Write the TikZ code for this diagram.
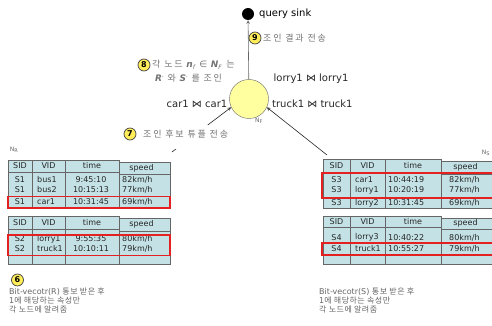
\documentclass[tikz,border=0pt]{standalone}
\usepackage{fontspec}
\setmainfont{DejaVu Sans}
\newfontfamily\krw[LetterSpace=20]{Noto Sans CJK KR}
\newfontfamily\krn[LetterSpace=6]{Noto Sans CJK KR}
\usepackage{tikz}

\definecolor{tblblue}{RGB}{196,226,230}
\definecolor{joinyellow}{RGB}{255,255,160}
\definecolor{numyellow}{RGB}{255,238,90}
\definecolor{hlred}{RGB}{228,32,32}

\tikzset{
  tline/.style={draw=black!60, line width=0.5pt},
  hlbox/.style={draw=hlred, line width=1.3pt},
  celltxt/.style={inner sep=0pt, text=black!85, font=\fontsize{8}{9}\selectfont},
  bowlbl/.style={inner sep=0pt, text=black!85, font=\fontsize{10}{11}\selectfont},
  num/.style={circle, draw=black!75, line width=0.7pt, fill=numyellow, inner sep=0pt,
    minimum size=12pt, font=\bfseries\fontsize{8}{8}\selectfont},
  steplbl/.style={inner sep=0pt, text=black!55, font=\krw\fontsize{9}{10}\selectfont},
  note/.style={inner sep=0pt, text=black!60, align=left, font=\fontsize{8}{8.7}\selectfont},
  minilbl/.style={inner sep=0pt, text=black!60, font=\fontsize{6}{6}\selectfont},
}

\begin{document}
\begin{tikzpicture}[x=1pt,y=-1pt,>=stealth]
\useasboundingbox (0,0) rectangle (492,326);

% query sink and join node N_F
\node[circle, fill=black, inner sep=0pt, minimum size=12pt] (sink) at (248,14) {};
\node[anchor=west, inner sep=0pt, font=\fontsize{10}{11}\selectfont] (sinklbl) at (259,14) {query sink};
\node[circle, draw=black!60, fill=joinyellow, inner sep=0pt, minimum size=39pt] (join) at (249,99) {};
\node[minilbl] (nf) at (259,121) {N\textsubscript{F}};
\draw[->, black!60, line width=0.6pt] (join) -- (sink);

% step 9
\node[num] (n9) at (255,38) {9};
\node[steplbl, anchor=west] (lab9) at (263,38) {조인 결과 전송};

% step 8
\node[num] (n8) at (144,65) {8};
\node[steplbl, anchor=west] (lab8a) at (152,65)
  {각 노드 {\rmfamily\bfseries\itshape n}\textsubscript{\rmfamily\itshape f} {\rmfamily ∈} {\rmfamily\bfseries\itshape N}\textsubscript{\rmfamily\itshape F} 는};
\node[steplbl, anchor=west] (lab8b) at (155,78)
  {{\rmfamily\bfseries\itshape R}{\rmfamily\fontsize{7}{7}\selectfont ′} 와 {\rmfamily\bfseries\itshape S}{\rmfamily\fontsize{7}{7}\selectfont ′} 를 조인};

% joined tuples
\node[bowlbl] (jlorry) at (311,79) {lorry1 ⋈ lorry1};
\node[bowlbl] (jcar) at (197,104) {car1 ⋈ car1};
\node[bowlbl, anchor=west] (jtruck) at (272,104) {truck1 ⋈ truck1};

% step 7: candidate tuples sent to N_F
\coordinate (fromR) at (172,152);
\coordinate (fromS) at (327,155);
\draw[->, black!85, line width=0.6pt] (fromR) -- (join.205);
\draw[->, black!85, line width=0.6pt] (fromS) -- (join.-25);
\node[num] (n7) at (130,134) {7};
\node[steplbl, anchor=base west, fill=white, text height=12pt, text depth=12pt, inner xsep=2pt]
  (lab7) at (141,137) {조인 후보 튜플 전송};

\node[minilbl] (nr) at (14,150) {N\textsubscript{R}};
\node[minilbl] (ns) at (486,153) {N\textsubscript{S}};

% table frames
\foreach \xa/\xb/\xc/\xd/\xe/\yt/\yh/\yb [count=\k] in
  {8/32/65/119/170/160/172/208, 8/32/65/119/170/216/229/264,
   323/350/385/441/496/159/172/208, 323/350/385/441/496/216/227/264}{
  \fill[tblblue] (\xa,\yt) rectangle (\xd,\yb) (\xd,\yt+2) rectangle (\xe,\yb);
  \draw[tline] (\xa,\yt) rectangle (\xd,\yb) (\xd,\yt+2) rectangle (\xe,\yb)
    (\xa,\yh) -- (\xd,\yh) (\xd,\yh+2) -- (\xe,\yh+2)
    (\xb,\yt) -- (\xb,\yb) (\xc,\yt) -- (\xc,\yb);
  \node[celltxt] (sid\k) at ({(\xa+\xb)/2},{(\yt+\yh)/2}) {SID};
  \node[celltxt] (vid\k) at ({(\xb+\xc)/2},{(\yt+\yh)/2}) {VID};
  \node[celltxt] (time\k) at ({(\xc+\xd)/2},{(\yt+\yh)/2}) {time};
  \node[celltxt] (speed\k) at ({(\xd+\xe)/2-3},{(\yt+\yh)/2+2}) {speed};
}

% rows of N_R
\foreach \y/\sid/\vid/\tm/\spd [count=\i] in
  {180/S1/bus1/9:45:10/{82km/h}, 189.5/S1/bus2/10:15:13/{77km/h}, 202/S1/car1/10:31:45/{69km/h},
   239/S2/lorry1/9:55:35/{80km/h}, 248.5/S2/truck1/10:10:11/{79km/h}}{
  \node[celltxt] (rs\i) at (20,\y) {\sid};
  \node[celltxt, anchor=west] (rv\i) at (37,\y) {\vid};
  \node[celltxt] (rt\i) at (91,\y) {\tm};
  \node[celltxt, anchor=west] (rp\i) at (122,\y) {\spd};
}
% rows of N_S
\foreach \y/\sid/\vid/\tm/\spd [count=\i] in
  {180/S3/car1/10:44:19/{82km/h}, 190/S3/lorry1/10:20:19/{77km/h}, 203/S3/lorry2/10:31:45/{69km/h},
   237.5/S4/lorry3/10:40:22/{80km/h}, 249/S4/truck1/10:55:27/{79km/h}}{
  \node[celltxt] (ss\i) at (336.5,\y) {\sid};
  \node[celltxt, anchor=west] (sv\i) at (355,\y) {\vid};
  \node[celltxt, anchor=west] (st\i) at (388,\y) {\tm};
  \node[celltxt, anchor=west] (sp\i) at (449,\y) {\spd};
}

% selected tuples
\draw[hlbox] (8,196.5) rectangle (170,208) (8,235) rectangle (170,255.5);
\draw[hlbox] (322,173) rectangle (496,198) (322,243) rectangle (496,255);

% step 6
\node[num] (n6) at (17.5,280) {6};
\node[note, anchor=north west] (noteR) at (9,288)
  {Bit-vecotr(R) {\krn 통보 받은 후}\\1{\krn 에 해당하는 속성만}\\{\krn 각 노드에 알려줌}};
\node[note, anchor=north west] (noteS) at (319,288)
  {Bit-vecotr(S) {\krn 통보 받은 후}\\1{\krn 에 해당하는 속성만}\\{\krn 각 노드에 알려줌}};
\end{tikzpicture}
\end{document}
